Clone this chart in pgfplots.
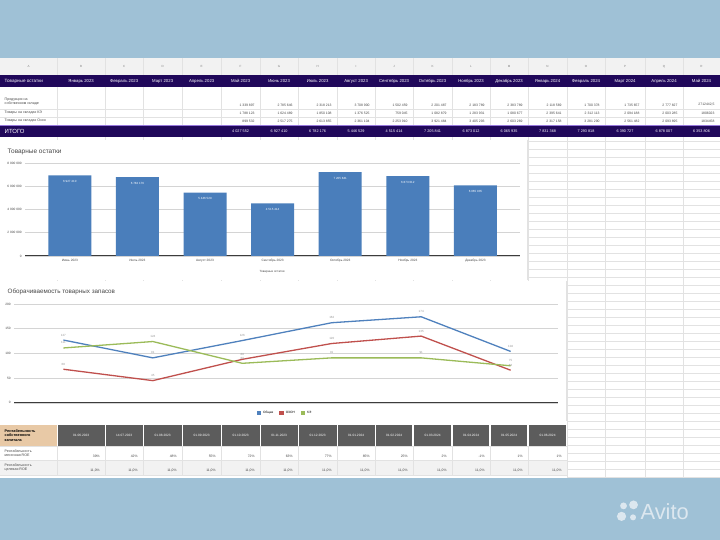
\documentclass[border=0pt]{standalone}
\usepackage{fontspec}
\setmainfont{Liberation Sans}
\usepackage{pgfplots}
\pgfplotsset{compat=1.18}
\definecolor{band}{RGB}{159,193,214}
\definecolor{indigo}{RGB}{32,8,90}
\definecolor{lavender}{RGB}{150,120,220}
\definecolor{gridc}{RGB}{226,226,226}
\definecolor{hdrgray}{RGB}{92,92,92}
\definecolor{tanc}{RGB}{232,201,166}
\definecolor{rowgray}{RGB}{242,242,242}
\definecolor{sblue}{RGB}{79,129,189}
\definecolor{sred}{RGB}{192,80,77}
\definecolor{sgreen}{RGB}{155,187,89}
\definecolor{barblue}{RGB}{74,126,187}
\definecolor{txt}{RGB}{70,70,70}
\definecolor{logo}{RGB}{220,231,239}
\newcommand\fs[1]{\fontsize{#1}{#1}\selectfont}

\begin{document}
\begin{tikzpicture}
\begin{scope}[x=1bp,y=-1bp]
\useasboundingbox (0,0) rectangle (720,540);
\fill[band] (0,0) rectangle (720,540);
\fill[white] (0,58) rectangle (720,478);

% sheet grid
\foreach \yy in {141,149,...,477} \draw[gridc,line width=0.4bp] (0,\yy) -- (720,\yy);
\foreach \xx in {57,105,143,182,221,260,298,337,375,413,452,490,528,567,605,645,683}
  \draw[gridc,line width=0.4bp] (\xx,58) -- (\xx,478);

% column letters
\fill[rowgray] (0,58) rectangle (720,75);
\foreach \xx in {57,105,143,182,221,260,298,337,375,413,452,490,528,567,605,645,683}
  \draw[gridc,line width=0.4bp] (\xx,58) -- (\xx,75);
\foreach \a/\b/\l in {0/57/A,57/105/B,105/143/C,143/182/D,182/221/E,221/260/F,260/298/G,298/337/H,337/375/I,375/413/J,413/452/K,452/490/L,490/528/M,528/567/N,567/605/O,605/645/P,645/683/Q,683/720/R}
  \node[gray,font=\fs{3}] at ({(\a+\b)/2},66.5) {\l};

% header row
\fill[indigo] (0,75) rectangle (720,87);
\node[white,font=\fs{4.6},anchor=west] at (1,81) {Товарные остатки};
\foreach \a/\b/\l in {57/105/Январь 2023,105/143/Февраль 2023,143/182/Март 2023,182/221/Апрель 2023,221/260/Май 2023,260/298/Июнь 2023,298/337/Июль 2023,337/375/Август 2023,375/413/Сентябрь 2023,413/452/Октябрь 2023,452/490/Ноябрь 2023,490/528/Декабрь 2023,528/567/Январь 2024,567/605/Февраль 2024,605/645/Март 2024,645/683/Апрель 2024,683/720/Май 2024}
  \node[white,font=\fs{4.3}] at ({(\a+\b)/2},81) {\l};

% data rows
\fill[white] (0,87) rectangle (720,125);
\foreach \yy in {109,117} \draw[gridc,line width=0.4bp] (0,\yy) -- (720,\yy);
\foreach \xx in {57,105,143,182,221,260,298,337,375,413,452,490,528,567,605,645,683}
  \draw[gridc,line width=0.4bp] (\xx,87) -- (\xx,125);
\node[txt,font=\fs{3.6},anchor=west,align=left] at (1,101.5) {Продукция на\\[1bp]собственном складе};
\node[txt,font=\fs{3.6},anchor=west] at (1,113) {Товары на складах КЭ};
\node[txt,font=\fs{3.6},anchor=west] at (1,121) {Товары на складах Озон};
\foreach \b/\v in {260/1 339 897,298/2 785 646,337/2 318 213,375/3 708 900,413/1 502 459,452/2 201 487,490/2 183 789,528/2 383 789,567/2 118 569,605/1 700 378,645/1 735 657,683/2 777 827,720/2712442{,}5}
  \node[txt,font=\fs{3.4},anchor=east] at ({\b-2},105) {\v};
\foreach \b/\v in {260/1 788 123,298/1 624 489,337/1 850 108,375/1 376 525,413/759 045,452/1 082 879,490/1 283 931,528/1 080 677,567/2 395 641,605/2 312 113,645/2 094 188,683/2 003 285,720/1806023}
  \node[txt,font=\fs{3.4},anchor=east] at ({\b-2},113) {\v};
\foreach \b/\v in {260/899 532,298/2 517 275,337/2 613 855,375/2 361 104,413/2 253 910,452/3 921 484,490/3 405 293,528/2 603 269,567/2 317 158,605/3 281 290,645/2 561 482,683/2 093 895,720/1834458}
  \node[txt,font=\fs{3.4},anchor=east] at ({\b-2},121) {\v};

% total row
\fill[indigo] (0,125) rectangle (720,137);
\draw[lavender,line width=0.5bp] (0,125) -- (720,125);
\node[white,font=\fs{6},anchor=west] at (1,131) {ИТОГО};
\foreach \a/\b/\v in {221/260/4 027 552,260/298/6 927 410,298/337/6 782 176,337/375/5 446 529,375/413/4 515 414,413/452/7 205 841,452/490/6 873 012,490/528/6 065 935,528/567/7 831 368,567/605/7 293 818,605/645/6 390 727,645/683/6 878 007,683/720/6 353 806}
  \node[white,font=\fs{3.8}] at ({(\a+\b)/2},131) {\v};

% chart panels
\fill[white] (0,140) rectangle (527,280);
\draw[gridc,line width=0.4bp] (527,140) -- (527,280);
\fill[white] (0,281) rectangle (566,421);
\draw[gridc,line width=0.4bp] (566,281) -- (566,421);
\node[txt,font=\fs{6.5},anchor=west] at (4,152) {Товарные остатки};
\node[txt,font=\fs{6.3},anchor=west] at (4,292) {Оборачиваемость товарных запасов};
\node[txt,font=\fs{3},anchor=west] at (256,272) {Товарные остатки};
\end{scope}

% bar chart
\begin{axis}[
  at={(25bp,-256bp)}, anchor=south west, scale only axis,
  width=495bp, height=93bp,
  xmin=-0.66, xmax=6.66, ymin=0, ymax=8000000,
  scaled y ticks=false,
  axis x line*=bottom, axis y line*=left,
  y axis line style={draw=none},
  x axis line style={draw={rgb,255:red,60;green,60;blue,60}, line width=1bp},
  major tick length=0pt,
  xtick={0,...,6},
  xticklabels={Июнь 2023,Июль 2023,Август 2023,Сентябрь 2023,Октябрь 2023,Ноябрь 2023,Декабрь 2023},
  ytick={0,2000000,4000000,6000000,8000000},
  yticklabels={0,2 000 000,4 000 000,6 000 000,8 000 000},
  tick label style={font=\fs{3.2}, text=txt},
  ymajorgrids, grid style={draw={rgb,255:red,212;green,212;blue,212}, line width=0.7bp},
  ybar, bar width=43bp,
  point meta=explicit symbolic,
  nodes near coords, nodes near coords align={below},
  every node near coord/.append style={white, font=\fs{3}, yshift=-1.5bp},
]
\addplot[fill=barblue, draw=none] coordinates {
  (0,6927410) [6 927 410]
  (1,6782176) [6 782 176]
  (2,5446529) [5 446 529]
  (3,4515414) [4 515 414]
  (4,7205841) [7 205 841]
  (5,6873012) [6 873 012]
  (6,6065935) [6 065 935]
};
\end{axis}

% turnover line chart
\begin{axis}[
  at={(14bp,-403bp)}, anchor=south west, scale only axis,
  width=544bp, height=99bp,
  xmin=-0.55, xmax=5.53, ymin=0, ymax=200,
  axis x line*=bottom, axis y line*=left,
  y axis line style={draw=none},
  x axis line style={draw={rgb,255:red,60;green,60;blue,60}, line width=1bp},
  major tick length=0pt,
  xtick=\empty,
  ytick={0,50,100,150,200},
  /pgf/number format/assume math mode=true,
  tick label style={font=\fs{3.2}, text=txt},
  ymajorgrids, grid style={draw={rgb,255:red,212;green,212;blue,212}, line width=0.7bp},
  nodes near coords,
  every node near coord/.append style={font=\fs{3}, text={rgb,255:red,150;green,150;blue,150}},
  legend columns=3,
  legend style={at={(0.498,-0.1)}, anchor=center, draw=none, fill=none, font=\fs{3.2},
    /tikz/every even column/.append style={column sep=4bp}},
  legend image code/.code={\fill[#1] (0,-1.5bp) rectangle (3bp,1.5bp);},
]
\addplot[sblue, line width=1.3bp, mark=none] coordinates {(0,127) (1,91) (2,126) (3,162) (4,174) (5,104)};
\addplot[sred, line width=1.3bp, mark=none] coordinates {(0,68) (1,45) (2,88) (3,120) (4,135) (5,66)};
\addplot[sgreen, line width=1.3bp, mark=none] coordinates {(0,111) (1,124) (2,80) (3,91) (4,91) (5,75)};
\legend{Общая,ОЗОН,КЭ}
\end{axis}

\begin{scope}[x=1bp,y=-1bp]
% ROE table
\fill[white] (0,421) rectangle (567,478);
\fill[tanc] (0,425) rectangle (57,446);
\node[black,font=\bfseries\fs{3.8},anchor=west,align=left] at (1,435.5) {Рентабельность\\[0.5bp]собственного\\[0.5bp]капитала};
\foreach \a/\b/\l in {57/105/01.06.2023,105/143/14.07.2023,143/182/01.08.2023,182/221/01.09.2023,221/260/01.10.2023,260/298/01.11.2023,298/337/01.12.2023,337/375/01.01.2024,375/413/01.02.2024,413/452/01.03.2024,452/490/01.04.2024,490/528/01.05.2024,528/567/01.06.2024}
{
  \fill[hdrgray] ({\a+0.6},425) rectangle ({\b-0.6},446);
  \node[white,font=\fs{3.2}] at ({(\a+\b)/2},435.5) {\l};
}
\fill[rowgray] (0,460) rectangle (567,475);
\draw[gridc,line width=0.4bp] (0,446) -- (567,446) (0,460) -- (567,460) (0,475) -- (567,475);
\foreach \xx in {57,105,143,182,221,260,298,337,375,413,452,490,528,567}
  \draw[gridc,line width=0.4bp] (\xx,446) -- (\xx,475);
\node[txt,font=\fs{3.6},anchor=west,align=left] at (1,453) {Рентабельность\\[0.5bp]месячная ROE};
\node[txt,font=\fs{3.6},anchor=west,align=left] at (1,467.5) {Рентабельность\\[0.5bp]целевая ROE};
\foreach \b/\v in {105/39,143/42,182/48,221/55,260/72,298/63,337/77,375/85,413/25,452/2,490/-1,528/1,567/1}
{
  \node[txt,font=\fs{3.4},anchor=east] at ({\b-2},456) {\v\%};
  \node[txt,font=\fs{3.4},anchor=east] at ({\b-2},470.5) {11,0\%};
}

% watermark
\fill[logo] (623.5,506) circle (3.4);
\fill[logo] (633.5,505) circle (4.4);
\fill[logo] (621.5,516.5) circle (4.6);
\fill[logo] (633,517.5) circle (3);
\node[logo,font=\fs{22},anchor=west] at (637,512) {Avito};
\end{scope}
\end{tikzpicture}
\end{document}
